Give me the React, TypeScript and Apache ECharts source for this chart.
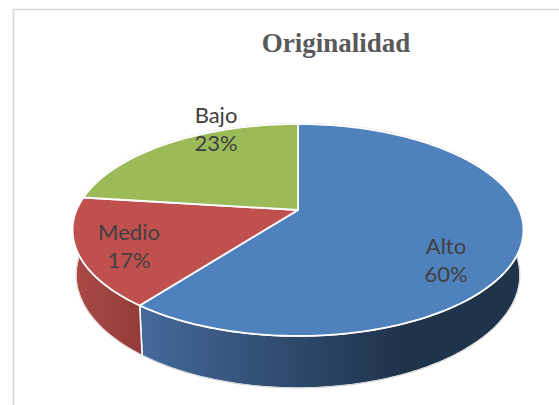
import React, { useEffect, useRef } from "react";
import * as echarts from "echarts";

const categories = ["Alto", "Medio", "Bajo"];
const values = [60.4, 16.6, 23];
const chartTitle = "Originalidad";

const topColors = ["#4f81bd", "#c0504d", "#9bbb59"];
const wallStops = [
  ["#44699b", "#1f334b"],
  ["#a94a46", "#923c39"],
  ["#9bbb59", "#9bbb59"],
];
const wallGradX = [
  [140, 400],
  [74, 143],
  [0, 100],
];
const labelAnchors = [
  [446, 259.5],
  [129, 245.5],
  [216, 128.5],
];

const CX = 298;
const VERTEX_Y = 210;
const K = -0.1887;
const A = 102.2;
const B = 221.4;
const TOP_CENTER_Y = 230;
const BOTTOM_CENTER_Y = 275;
const WALL_SCALE_X = 0.9845;
const WALL_SCALE_Y = 113 / 106;
const total = values.reduce((a, b) => a + b, 0);

function topPoint(t: number): [number, number] {
  const x = Math.sin(t);
  const y = -Math.cos(t);
  const w = 1 + K * y;
  return [CX + (B * x) / w, VERTEX_Y + (A * y) / w];
}
function bottomPoint(t: number): [number, number] {
  const [x, y] = topPoint(t);
  return [CX + (x - CX) * WALL_SCALE_X, BOTTOM_CENTER_Y + (y - TOP_CENTER_Y) * WALL_SCALE_Y];
}
function arc(fn: (t: number) => [number, number], a: number, b: number) {
  const n = Math.max(2, Math.ceil(Math.abs(b - a) / 0.02));
  const pts: [number, number][] = [];
  for (let i = 0; i <= n; i++) pts.push(fn(a + ((b - a) * i) / n));
  return pts;
}

export default function App() {
  const ref = useRef<HTMLDivElement>(null);
  useEffect(() => {
    const chart = echarts.init(ref.current!, null, { renderer: "svg" });
    const renderItem = (params: any, api: any) => {
      const i = params.dataIndex;
      const v = api.value(0);
      const before = values.slice(0, i).reduce((a, b) => a + b, 0);
      const t0 = (before / total) * 2 * Math.PI;
      const t1 = ((before + v) / total) * 2 * Math.PI;
      const children: any[] = [];
      const w0 = Math.max(t0, Math.PI / 2);
      const w1 = Math.min(t1, (3 * Math.PI) / 2);
      if (w1 > w0) {
        const top = arc(topPoint, w0, w1);
        const bot = arc(bottomPoint, w1, w0);
        children.push({
          type: "polygon",
          shape: { points: [...top, ...bot] },
          style: {
            fill: new echarts.graphic.LinearGradient(
              wallGradX[i][0], 0, wallGradX[i][1], 0,
              [
                { offset: 0, color: wallStops[i][0] },
                { offset: 1, color: wallStops[i][1] },
              ],
              true
            ),
            stroke: "#ffffff",
            lineWidth: 1.5,
          },
        });
        children.push({
          type: "polyline",
          shape: { points: arc(bottomPoint, w0, w1) },
          style: { fill: "none", stroke: "#c4c4c4", lineWidth: 0.8 },
        });
      }
      children.push({
        type: "polyline",
        shape: { points: arc(topPoint, t0, t1).map(([x, y]) => [x, y - 0.6]) },
        style: { fill: "none", stroke: "#cfcfcf", lineWidth: 1 },
      });
      children.push({
        type: "polygon",
        shape: { points: [[CX, VERTEX_Y], ...arc(topPoint, t0, t1)] },
        style: { fill: topColors[i], stroke: "#ffffff", lineWidth: 1.8, lineJoin: "round" },
      });
      return { type: "group", children };
    };
    const labelItem = (params: any, api: any) => {
      const i = params.dataIndex;
      const v = api.value(0);
      return {
        type: "text",
        x: labelAnchors[i][0],
        y: labelAnchors[i][1],
        style: {
          text: `${categories[i]}\n${Math.round((v / total) * 100)}%`,
          fontFamily: "Lato",
          fontSize: 22,
          lineHeight: 28,
          fill: "#404040",
          align: "center",
          verticalAlign: "middle",
        },
      };
    };
    const seriesData = values.map((v, i) => ({ name: categories[i], value: [v] }));
    chart.setOption({
      animation: false,
      backgroundColor: "#ffffff",
      title: {
        text: chartTitle,
        left: 331,
        top: 24,
        textAlign: "center",
        textStyle: {
          fontFamily: "Liberation Serif",
          fontWeight: "bold",
          fontSize: 27,
          color: "#595959",
        },
      },
      graphic: [
        {
          type: "rect",
          shape: { x: 13.5, y: 9.5, width: 600, height: 500 },
          style: { fill: "none", stroke: "#d9d9d9", lineWidth: 1.6 },
          silent: true,
          z: -1,
        },
      ],
      series: [
        { type: "custom", coordinateSystem: "none", renderItem, data: seriesData, silent: true, z: 2 },
        { type: "custom", coordinateSystem: "none", renderItem: labelItem, data: seriesData, silent: true, z: 3 },
      ],
    });
    return () => chart.dispose();
  }, []);
  return <div ref={ref} style={{ position: "fixed", left: 0, top: 0, width: 559, height: 405 }} />;
}
